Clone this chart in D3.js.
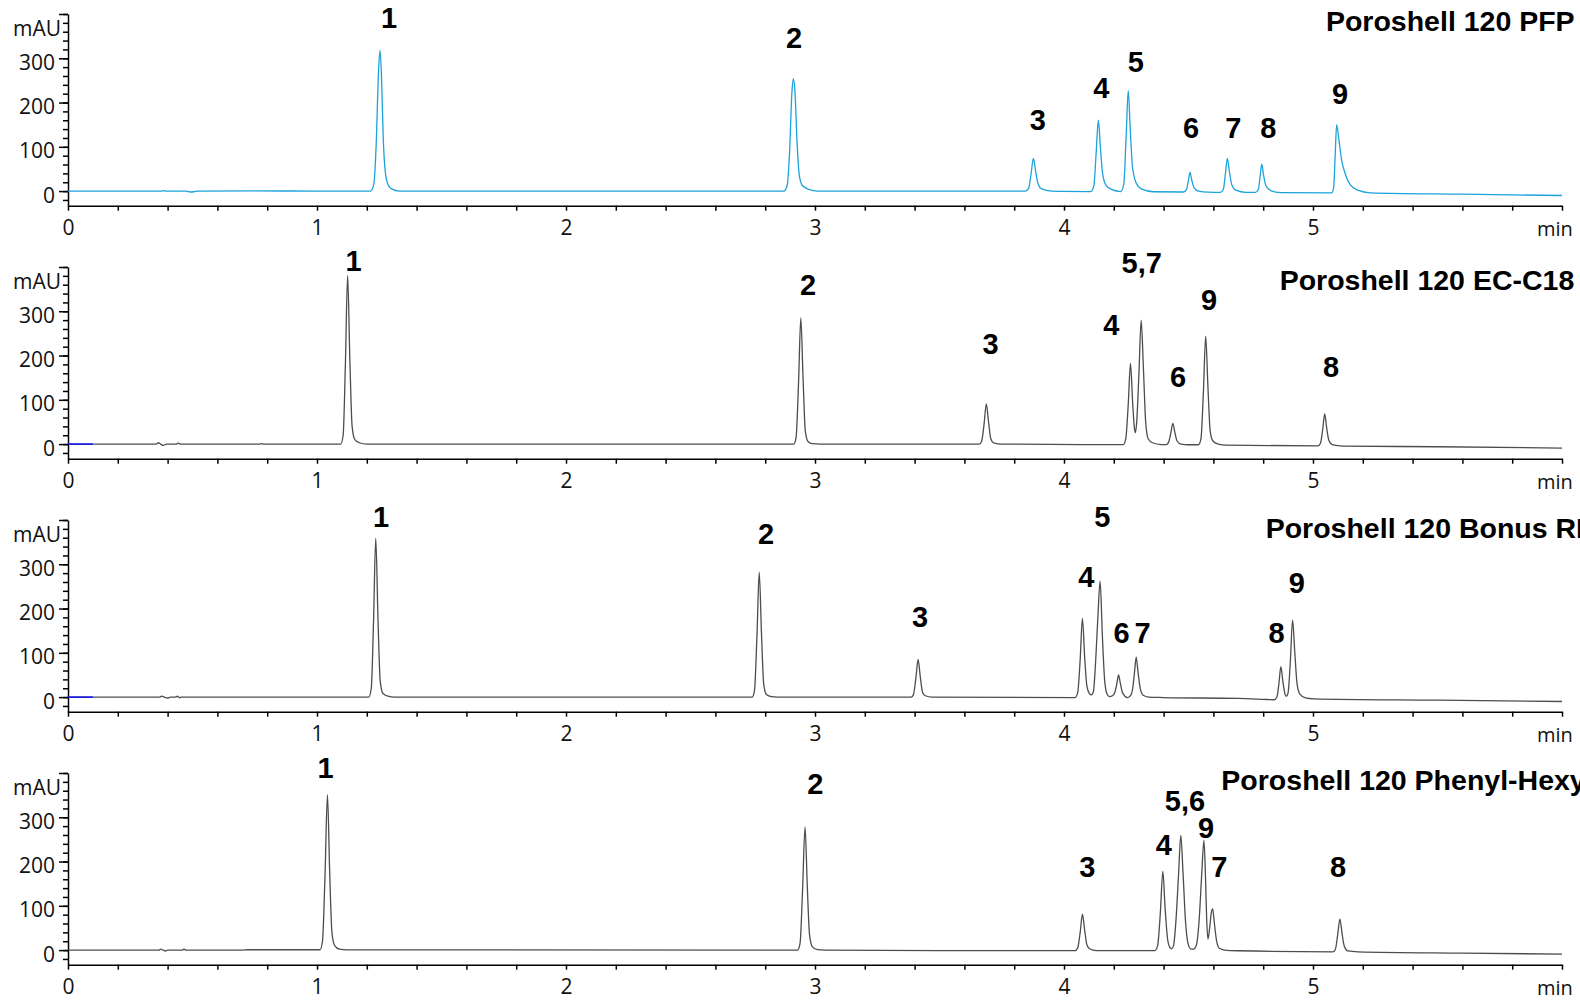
<!DOCTYPE html>
<html>
<head>
<meta charset="utf-8">
<script src="https://cdn.jsdelivr.net/npm/d3@7"></script>
<style>
  body { margin: 0; background: #fff; overflow: hidden; }
  svg { display: block; }
</style>
</head>
<body>
<div id="main"></div>
<script>
"use strict";

// column names, top to bottom
var columnTitles = ["Poroshell 120 PFP", "Poroshell 120 EC-C18", "Poroshell 120 Bonus RP", "Poroshell 120 Phenyl-Hexyl"];
// where each title starts [min, mAU]
var titleAnchors = [[5.052, 385], [4.866, 372], [4.810, 382], [4.632, 384]];

var xTickLabels = [0, 1, 2, 3, 4, 5];
var yTickLabels = [0, 100, 200, 300];

// traces: [min, mAU]
var pfpTrace = [
  [0, 0], [0.3, 0], [0.375, 0], [0.383, 1], [0.392, 0], [0.475, 0], [0.492, -2], [0.505, -1.5], [0.52, 0], [0.75, 0.5], [1.0, 0],
  [1.215, 0], [1.228, 15], [1.238, 110], [1.247, 270], [1.253, 318], [1.259, 260], [1.266, 120], [1.274, 45], [1.285, 15], [1.30, 5], [1.33, 0],
  [2.0, 0], [2.875, 0], [2.888, 12], [2.898, 90], [2.907, 220], [2.913, 254], [2.920, 220], [2.928, 110], [2.937, 35], [2.950, 12], [2.975, 4], [3.01, 0],
  [3.5, 0], [3.845, 0], [3.858, 6], [3.868, 40], [3.877, 74], [3.886, 45], [3.896, 16], [3.91, 5], [3.95, 0], [3.99, -0.5],
  [4.108, -1], [4.120, 12], [4.129, 85], [4.138, 160], [4.146, 100], [4.155, 40], [4.168, 14], [4.19, 4],
  [4.228, -1], [4.240, 15], [4.250, 130], [4.258, 227], [4.266, 140], [4.275, 55], [4.290, 18], [4.31, 5], [4.36, -1.5],
  [4.48, -2], [4.492, 4], [4.499, 22], [4.506, 42], [4.513, 25], [4.522, 8], [4.54, 0], [4.58, -2.5],
  [4.628, -3], [4.640, 4], [4.648, 38], [4.656, 74], [4.664, 45], [4.674, 14], [4.69, 2], [4.73, -3],
  [4.768, -3], [4.780, 3], [4.787, 30], [4.794, 61], [4.801, 38], [4.811, 12], [4.83, 1], [4.87, -3.5],
  [5.075, -4], [5.083, 8], [5.089, 80], [5.095, 150], [5.103, 120], [5.115, 70], [5.130, 38], [5.15, 14], [5.18, 2], [5.23, -4],
  [5.6, -7], [6, -10]
];
var ec18Trace = [
  [0, 0], [0.3, 0], [0.355, 0], [0.362, 3], [0.372, 0], [0.383, -3], [0.395, 0], [0.435, 0], [0.443, 2], [0.452, 0], [0.77, 0], [0.778, 1], [0.786, 0],
  [1.095, 0], [1.105, 20], [1.114, 180], [1.123, 381], [1.132, 190], [1.141, 40], [1.152, 10], [1.17, 3], [1.2, 0],
  [2.915, 0], [2.924, 15], [2.934, 140], [2.943, 285], [2.952, 150], [2.961, 30], [2.972, 6], [2.99, 1], [3.02, 0],
  [3.66, 0], [3.669, 6], [3.679, 45], [3.688, 91], [3.697, 50], [3.706, 12], [3.717, 3], [3.75, 0],
  [4.1, -1], [4.238, -1], [4.248, 12], [4.258, 90], [4.267, 182], [4.276, 90], [4.283, 35], [4.287, 26], [4.292, 50], [4.301, 160], [4.310, 280], [4.319, 170], [4.328, 50], [4.338, 12], [4.355, 3], [4.39, -1],
  [4.41, -1], [4.420, 4], [4.429, 25], [4.437, 47], [4.445, 27], [4.454, 7], [4.47, 0], [4.50, -1.5],
  [4.54, -1.5], [4.550, 12], [4.560, 120], [4.569, 244], [4.578, 130], [4.587, 30], [4.598, 7], [4.62, 0], [4.65, -2.5],
  [5.02, -4], [5.030, 2], [5.039, 33], [5.047, 68], [5.055, 36], [5.064, 8], [5.08, -2], [5.12, -4.5],
  [5.5, -6], [6, -9]
];
var bonusTrace = [
  [0, 0], [0.3, 0], [0.368, 0], [0.376, 2], [0.386, 0], [0.40, -2], [0.412, 0], [0.432, 0], [0.44, 2], [0.447, -1.5], [0.455, 0],
  [1.208, 0], [1.218, 20], [1.227, 170], [1.236, 359], [1.245, 175], [1.254, 35], [1.265, 8], [1.285, 2], [1.31, 0],
  [2.748, 0], [2.757, 15], [2.767, 140], [2.776, 282], [2.785, 145], [2.794, 30], [2.805, 6], [2.825, 1], [2.85, 0],
  [3.386, 0], [3.395, 5], [3.405, 42], [3.414, 85], [3.423, 45], [3.432, 11], [3.443, 3], [3.47, 0],
  [4.045, -1], [4.055, 10], [4.065, 85], [4.074, 178], [4.083, 90], [4.092, 25], [4.102, 8], [4.110, 5], [4.118, 12], [4.127, 80], [4.136, 180], [4.145, 262], [4.154, 140], [4.163, 40], [4.172, 8], [4.182, 1],
  [4.195, 3], [4.205, 12], [4.212, 30], [4.219, 50], [4.226, 32], [4.235, 10], [4.255, -1], [4.268, 4], [4.276, 20], [4.283, 55], [4.290, 90], [4.297, 58], [4.306, 20], [4.318, 4], [4.34, 0], [4.4, -1],
  [4.70, -3], [4.80, -5], [4.845, -6], [4.855, 0], [4.863, 30], [4.871, 69], [4.879, 35], [4.888, 6], [4.894, 2], [4.900, 10], [4.909, 80], [4.918, 174], [4.927, 100], [4.936, 30], [4.948, 6], [4.97, -2], [5.0, -4],
  [5.5, -7], [6, -10]
];
var phenylTrace = [
  [0, 0], [0.3, 0], [0.365, 0], [0.373, 2], [0.382, 0], [0.392, -2], [0.40, 0], [0.458, 0], [0.466, 2], [0.474, 0], [0.70, 0], [0.72, 0.8],
  [1.012, 0.8], [1.022, 20], [1.032, 165], [1.042, 351], [1.051, 175], [1.060, 40], [1.071, 10], [1.09, 2], [1.12, 0.5],
  [2.93, 0], [2.940, 15], [2.950, 135], [2.960, 278], [2.969, 145], [2.978, 35], [2.989, 8], [3.01, 1], [3.04, 0],
  [3.5, -1], [4.045, -1], [4.055, 5], [4.065, 40], [4.074, 81], [4.083, 45], [4.092, 12], [4.103, 3], [4.13, -1],
  [4.365, -1], [4.376, 10], [4.387, 85], [4.397, 178], [4.406, 95], [4.416, 25], [4.425, 6], [4.432, 3], [4.440, 10], [4.450, 70], [4.460, 170], [4.469, 259], [4.478, 175], [4.488, 65], [4.498, 15], [4.510, 2],
  [4.520, 2], [4.532, 12], [4.543, 70], [4.553, 170], [4.562, 248], [4.568, 170], [4.573, 70], [4.578, 25], [4.585, 50], [4.591, 82], [4.597, 93], [4.604, 60], [4.613, 20], [4.624, 4], [4.645, 0], [4.7, -1.5],
  [5.08, -4], [5.090, 2], [5.099, 34], [5.108, 70], [5.117, 36], [5.126, 8], [5.14, -2], [5.18, -4],
  [5.6, -7], [6, -9]
];
// short blue baseline marker at start of run
var startMarker = [[0, 0], [0.1, 0]];

// peak numbers: [text, min, mAU]
var pfpLabels = [["1", 1.289, 391], ["2", 2.916, 347], ["3", 3.895, 161], ["4", 4.150, 234], ["5", 4.288, 293], ["6", 4.510, 143], ["7", 4.680, 143], ["8", 4.821, 143], ["9", 5.109, 220]];
var ec18Labels = [["1", 1.147, 414], ["2", 2.972, 361], ["3", 3.705, 227], ["4", 4.190, 270], ["5,7", 4.312, 409], ["6", 4.458, 152], ["9", 4.583, 327], ["8", 5.073, 174]];
var bonusLabels = [["1", 1.257, 407], ["2", 2.803, 370], ["3", 3.422, 181], ["4", 4.090, 272], ["5", 4.154, 407], ["6", 4.231, 145], ["7", 4.316, 145], ["8", 4.854, 145], ["9", 4.935, 259]];
var phenylLabels = [["1", 1.034, 413], ["2", 3.001, 377], ["3", 4.094, 188], ["4", 4.401, 238], ["5,6", 4.486, 338], ["9", 4.571, 277], ["7", 4.624, 188], ["8", 5.101, 188]];

var panels = [
  { trace: pfpTrace, labels: pfpLabels, color: "#1ba3dc", marker: false },
  { trace: ec18Trace, labels: ec18Labels, color: "#4d4d4d", marker: true },
  { trace: bonusTrace, labels: bonusLabels, color: "#4d4d4d", marker: true },
  { trace: phenylTrace, labels: phenylLabels, color: "#4d4d4d", marker: false }
];

var CH = {
  w: 1580,
  h: 1000,
  left: 68,
  right: 1562,
  top: 14,
  bottom: 205.7,
  step: 253,
  svg: null,
  axisFont: "'Open Sans', 'Noto Sans', sans-serif",
  boldFont: "'Liberation Sans', Arial, sans-serif",
  init: function() {
    CH.svg = d3.select("#main").append("svg")
      .attr("width", CH.w)
      .attr("height", CH.h);
    panels.forEach(function(p, i) {
      CH.drawPanel(p, i);
    });
  },
  drawPanel: function(p, i) {
    var off = i * CH.step;
    var x = d3.scaleLinear().domain([0, 6]).range([CH.left, CH.right]);
    var y = d3.scaleLinear().domain([-33, 400]).range([CH.bottom + off, CH.top + off]);
    var g = CH.svg.append("g");

    // y axis: minor every 20, major every 100
    var yMinor = d3.range(-1, 21).map(function(k) { return k * 20; });
    var minor = g.append("g")
      .attr("transform", "translate(" + CH.left + ",0)")
      .call(d3.axisLeft(y).tickValues(yMinor).tickSize(5).tickSizeOuter(0).tickFormat(""));
    minor.select(".domain").remove();
    var major = g.append("g")
      .attr("transform", "translate(" + CH.left + ",0)")
      .call(d3.axisLeft(y).tickValues(yTickLabels.concat([400])).tickSize(9).tickSizeOuter(0).tickPadding(4)
        .tickFormat(function(d) { return yTickLabels.indexOf(d) >= 0 ? d : ""; }));
    major.selectAll("text").attr("dy", "0.52em");

    // x axis: ticks every 0.2 min
    var xMinor = d3.range(0, 31).map(function(k) { return k / 5; });
    var xa = g.append("g")
      .attr("transform", "translate(0," + (CH.bottom + off) + ")")
      .call(d3.axisBottom(x).tickValues(xMinor).tickSize(5).tickSizeOuter(0).tickPadding(9.5)
        .tickFormat(function(d) { return xTickLabels.indexOf(d) >= 0 ? d : ""; }));

    [minor, major, xa].forEach(function(a) {
      a.attr("font-family", CH.axisFont).attr("font-size", 21);
      a.selectAll("line, path").attr("stroke", "#000").attr("stroke-width", 1.5);
      a.selectAll("text").attr("fill", "#111");
    });

    g.append("text")
      .attr("x", 61)
      .attr("y", CH.top + off + 22)
      .attr("text-anchor", "end")
      .attr("font-family", CH.axisFont)
      .attr("font-size", 21)
      .attr("fill", "#111")
      .text("mAU");
    g.append("text")
      .attr("x", CH.right - 25)
      .attr("y", CH.bottom + off + 30)
      .attr("font-family", CH.axisFont)
      .attr("font-size", 20)
      .attr("fill", "#111")
      .text("min");

    var line = d3.line()
      .x(function(d) { return x(d[0]); })
      .y(function(d) { return y(d[1]); })
      .curve(d3.curveMonotoneX);
    g.append("path")
      .datum(p.trace)
      .attr("d", line)
      .attr("fill", "none")
      .attr("stroke", p.color)
      .attr("stroke-width", 1.3);
    if (p.marker) {
      g.append("path")
        .datum(startMarker)
        .attr("d", line)
        .attr("fill", "none")
        .attr("stroke", "#0000ff")
        .attr("stroke-width", 1.3);
    }

    g.selectAll(".peak")
      .data(p.labels)
      .enter().append("text")
      .attr("class", "peak")
      .attr("x", function(d) { return x(d[1]); })
      .attr("y", function(d) { return y(d[2]); })
      .attr("dy", "0.36em")
      .attr("text-anchor", "middle")
      .attr("font-family", CH.boldFont)
      .attr("font-weight", "bold")
      .attr("font-size", 29)
      .attr("fill", "#000")
      .text(function(d) { return d[0]; });

    g.append("text")
      .attr("x", x(titleAnchors[i][0]))
      .attr("y", y(titleAnchors[i][1]))
      .attr("dy", "0.36em")
      .attr("font-family", CH.boldFont)
      .attr("font-weight", "bold")
      .attr("font-size", 28.5)
      .attr("fill", "#000")
      .text(columnTitles[i]);
  }
};

CH.init();
</script>
</body>
</html>
